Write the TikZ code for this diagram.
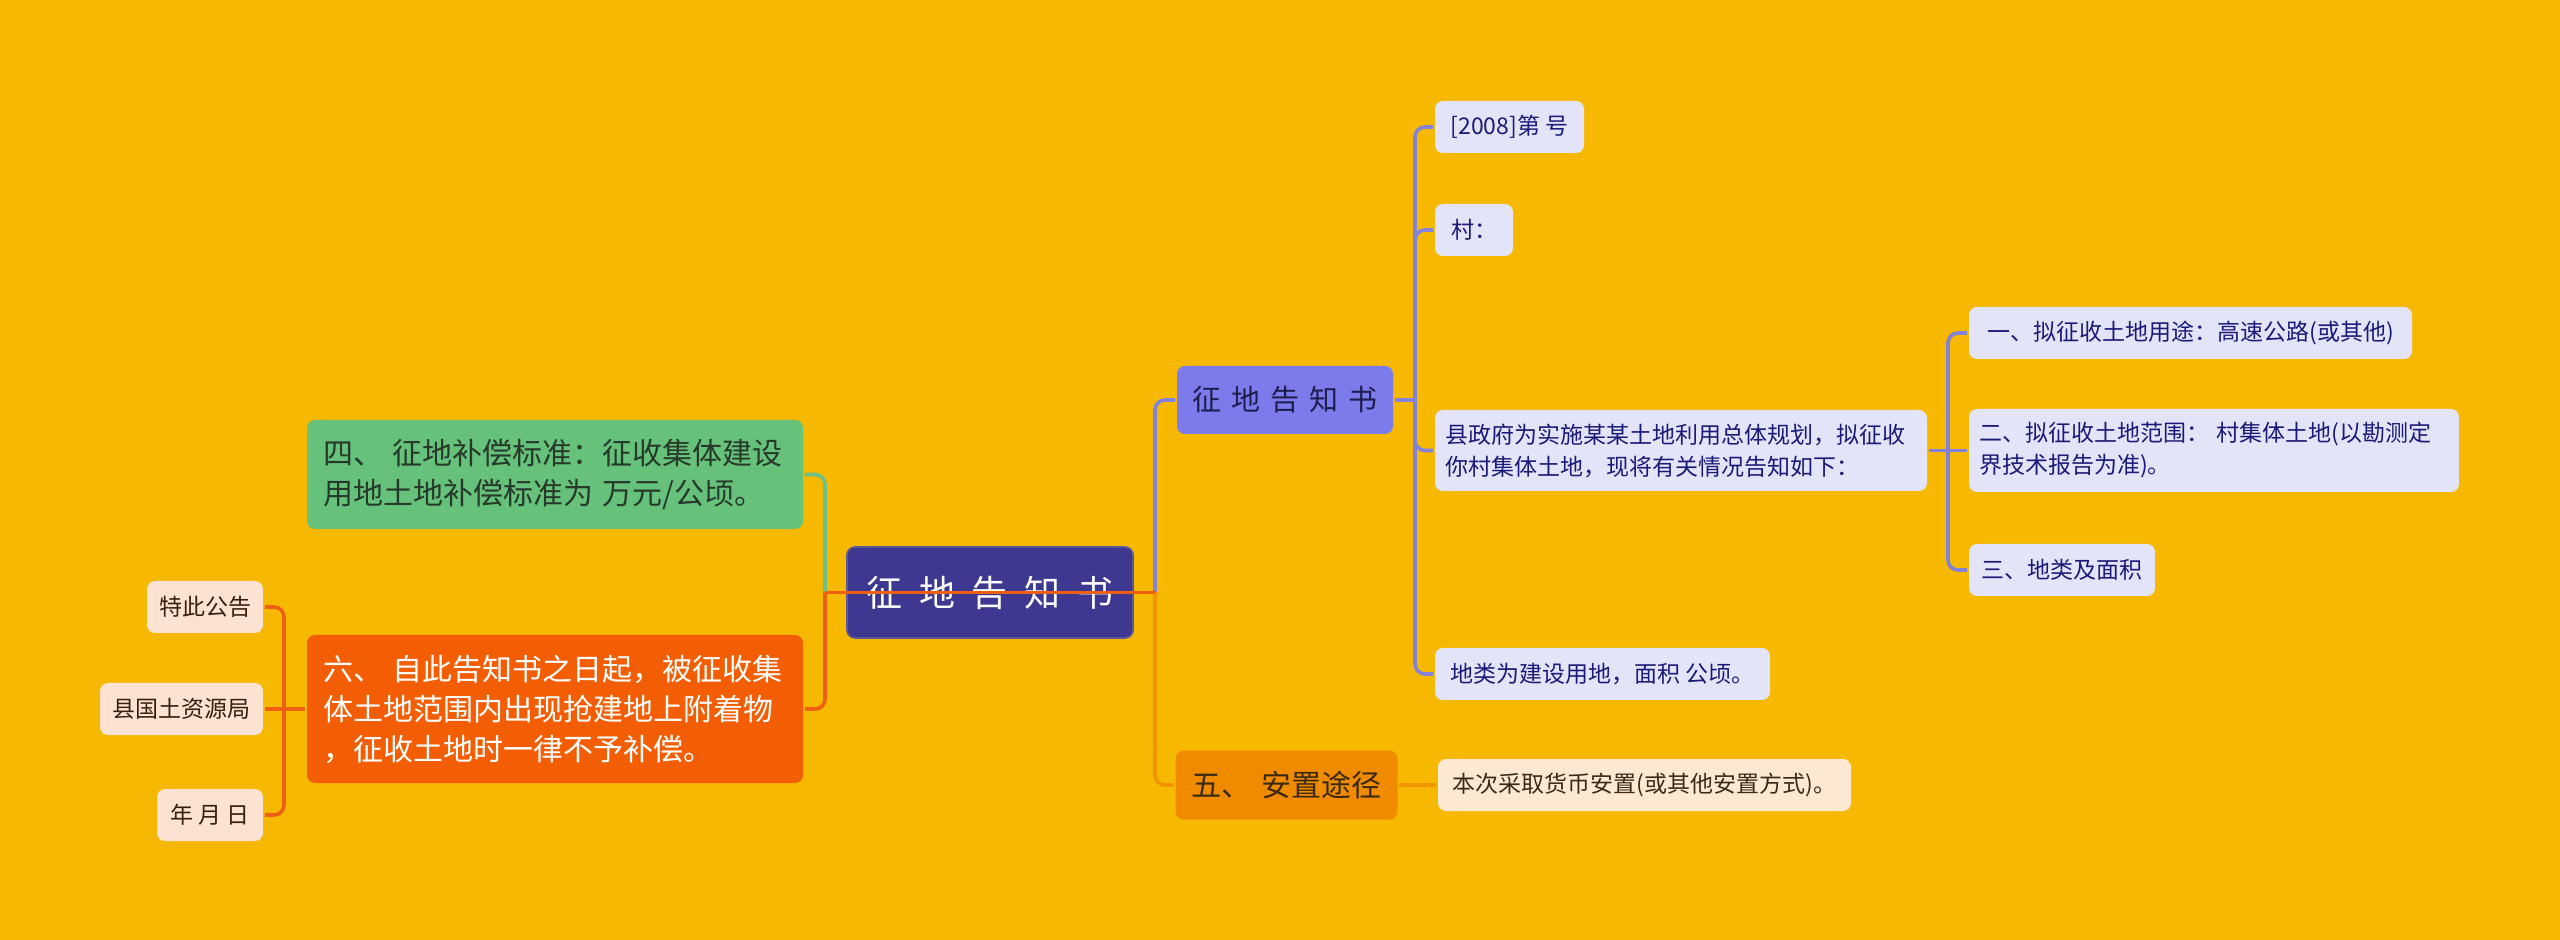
\documentclass[tikz,border=0pt]{standalone}
\usepackage{fontspec}
\setmainfont{Noto Sans CJK SC}
\definecolor{bgyellow}{HTML}{F6B800}
\definecolor{rootfill}{HTML}{3E3890}
\definecolor{rootedge}{HTML}{5C5896}
\definecolor{mainfill}{HTML}{7B7BEB}
\definecolor{maintext}{HTML}{1E1E4E}
\definecolor{noteblue}{HTML}{E4E4F8}
\definecolor{notetext}{HTML}{1A1A78}
\definecolor{lnpurple}{HTML}{8282DA}
\definecolor{wufill}{HTML}{F08B00}
\definecolor{wutext}{HTML}{3B2A12}
\definecolor{notepeach}{HTML}{FDE9D3}
\definecolor{peachtext}{HTML}{3A2A1A}
\definecolor{sifill}{HTML}{66C17B}
\definecolor{sitext}{HTML}{26392A}
\definecolor{lngreen}{HTML}{66C18C}
\definecolor{liufill}{HTML}{F35E05}
\definecolor{lnred}{HTML}{EE5F12}
\definecolor{lnorange}{HTML}{F29400}
\definecolor{sidepeach}{HTML}{FCE2D2}
\definecolor{sidetext}{HTML}{3A1F10}
\begin{document}
\begin{tikzpicture}[x=.5pt,y=-.5pt,line width=1.8pt,
box/.style={rounded corners=4pt,inner ysep=0pt},
leaf/.style={box,inner xsep=5pt,minimum height=26pt,font=\fontsize{11.5}{16}\selectfont},
blueleaf/.style={leaf,fill=noteblue,text=notetext},
mid/.style={box,inner xsep=8pt,font=\fontsize{15}{20}\selectfont},
lnp/.style={draw=lnpurple,rounded corners=5pt},
lnr/.style={draw=lnred,rounded corners=5pt}]
\useasboundingbox (0,0) rectangle (2560,940);
\fill[bgyellow] (0,0) rectangle (2560,940);
% centre
\node[box,fill=rootfill,draw=rootedge,line width=.8pt,text=white,minimum width=143pt,minimum height=45.5pt,
font=\fontsize{18}{22}\selectfont] (root) at (990,592.5)
{征\hspace{8.5pt}地\hspace{8.5pt}告\hspace{8.5pt}知\hspace{8.5pt}书};
% right side
\node[box,fill=mainfill,text=maintext,minimum width=108pt,minimum height=34pt,
font=\fontsize{14.5}{18}\selectfont] (l1) at (1285,400)
{征\hspace{5pt}地\hspace{5pt}告\hspace{5pt}知\hspace{5pt}书};
\node[mid,fill=wufill,text=wutext,minimum width=109.5pt,minimum height=34.5pt] (wu) at (1286.5,785) {五、\hspace{5pt}安置途径};
\node[blueleaf,minimum width=74.5pt] (hao) at (1509.5,127) {[2008]第 号};
\node[blueleaf,minimum width=39pt] (cun) at (1474,230) {村：};
\node[blueleaf,minimum height=40.5pt,text width=236pt,align=left] (xian) at (1681,450.5)
{县政府为实施某某土地利用总体规划，拟征收\\你村集体土地，现将有关情况告知如下：};
\node[blueleaf,minimum width=167.5pt] (dilei) at (1602.5,674) {地类为建设用地，面积 公顷。};
\node[blueleaf,minimum width=221.5pt] (yi) at (2190.5,333) {一、拟征收土地用途：高速公路(或其他)};
\node[blueleaf,minimum height=41.5pt,text width=235pt,align=left] (er) at (2214,450.5)
{二、拟征收土地范围： 村集体土地(以勘测定\\界技术报告为准)。};
\node[blueleaf,minimum width=93pt] (san) at (2062,570) {三、地类及面积};
\node[leaf,fill=notepeach,text=peachtext,minimum width=206.5pt] (ben) at (1644.5,785) {本次采取货币安置(或其他安置方式)。};
% left side
\node[mid,fill=sifill,text=sitext,minimum height=54.5pt,text width=232pt,align=left] (si) at (555,474.5)
{四、\hspace{5pt}征地补偿标准：征收集体建设\\用地土地补偿标准为 万元/公顷。};
\node[mid,fill=liufill,text=white,minimum height=74pt,text width=232pt,align=left] (liu) at (555,709)
{六、\hspace{5pt}自此告知书之日起，被征收集\\体土地范围内出现抢建地上附着物\\，征收土地时一律不予补偿。};
\node[leaf,fill=sidepeach,text=sidetext,minimum width=58pt] (te) at (205,607) {特此公告};
\node[leaf,fill=sidepeach,text=sidetext,minimum width=81.5pt] (xg) at (181.5,709) {县国土资源局};
\node[leaf,fill=sidepeach,text=sidetext,minimum width=53pt] (nyr) at (210,815) {年 月 日};
% connectors
\coordinate (lj) at (825,592.5);
\coordinate (rj) at (1155,592.5);
\coordinate (aj) at (1415,400);
\coordinate (bj) at (1948,450.5);
\coordinate (cj) at (284,709);
\draw[lnp] (rj) |- (l1.west);
\draw[draw=lnorange,rounded corners=5pt] (rj) |- (wu.west);
\draw[draw=lngreen,rounded corners=5pt] (si.east) -| (lj);
\draw[lnr] (liu.east) -| (lj);
\draw[lnr] (lj) -- (rj);
\draw[lnp] (l1.east) -- (aj);
\foreach \n in {hao,cun,xian,dilei}
  \draw[lnp] (aj) |- (\n.west);
\draw[lnp] (xian.east) -- (bj) -- (er.west);
\draw[lnp] (bj) |- (yi.west);
\draw[lnp] (bj) |- (san.west);
\draw[draw=lnorange] (wu.east) -- (ben.west);
\draw[lnr] (liu.west) -- (cj) -- (xg.east);
\draw[lnr] (cj) |- (te.east);
\draw[lnr] (cj) |- (nyr.east);
\end{tikzpicture}
\end{document}
